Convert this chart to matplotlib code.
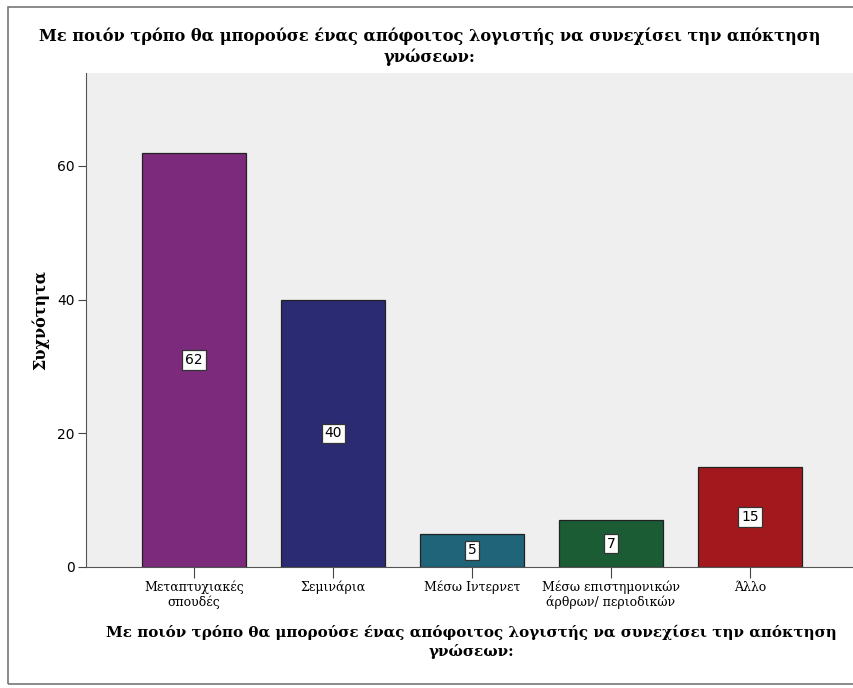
import matplotlib.pyplot as plt
from matplotlib.patches import Rectangle

# data
categories = ['Μεταπτυχιακές\nσπουδές', 'Σεμινάρια', 'Μέσω Ιντερνετ',
              'Μέσω επιστημονικών\nάρθρων/ περιοδικών', 'Άλλο']
counts = [62, 40, 5, 7, 15]
bar_colors = ['#7c2a7c', '#2b2b74', '#1f6479', '#1b5c34', '#a3181c']
yticks = [0, 20, 40, 60]
title = 'Με ποιόν τρόπο θα μπορούσε ένας απόφοιτος λογιστής να συνεχίσει την απόκτηση\nγνώσεων:'

serif = ['DejaVu Serif']

fig = plt.figure(figsize=(8.54, 6.88), dpi=100)
ax = fig.add_axes([86 / 854, 121 / 688, 770 / 854, 494 / 688])
ax.set_facecolor('#efefef')

x = range(len(categories))
ax.bar(x, counts, width=0.75, color=bar_colors, edgecolor='#222222', linewidth=0.9, zorder=2)

# value labels in white boxes
for i, v in zip(x, counts):
    ax.text(i, v / 2, str(v), ha='center', va='center', fontsize=10, family='DejaVu Sans',
            bbox=dict(boxstyle='square,pad=0.2', fc='white', ec='#333333', lw=0.9), zorder=3)

ax.set_xlim(-0.777, 4.762)
ax.set_ylim(0, 73.9)
ax.set_yticks(yticks)
ax.set_xticks(list(x))
ax.set_xticklabels(categories, family=serif, fontsize=9, linespacing=1.15)
ax.tick_params(axis='y', labelsize=10, length=6, color='#444444', pad=2)
ax.tick_params(axis='x', length=8, color='#444444', pad=2)
for s in ['top', 'right']:
    ax.spines[s].set_visible(False)
for s in ['left', 'bottom']:
    ax.spines[s].set_color('#555555')

ax.set_ylabel('Συχνότητα', family=serif, fontsize=11.5, fontweight='bold', labelpad=6)

# x-axis title placed by hand so it stays inside the cropped frame
fig.text(471 / 854, 1 - 642 / 688, title, ha='center', va='center', family=serif,
         fontsize=10.9, fontweight='bold', linespacing=1.4)

fig.text(430 / 854, 1 - 47 / 688, title, ha='center', va='center', family=serif,
         fontsize=11.7, fontweight='bold', linespacing=1.25)

# outer frame
fig.patches.append(Rectangle((8 / 854, 4 / 688), 900 / 854, 677 / 688, transform=fig.transFigure,
                             fill=False, ec='#777777', lw=1.2))

fig.savefig('out.png', dpi=100)
